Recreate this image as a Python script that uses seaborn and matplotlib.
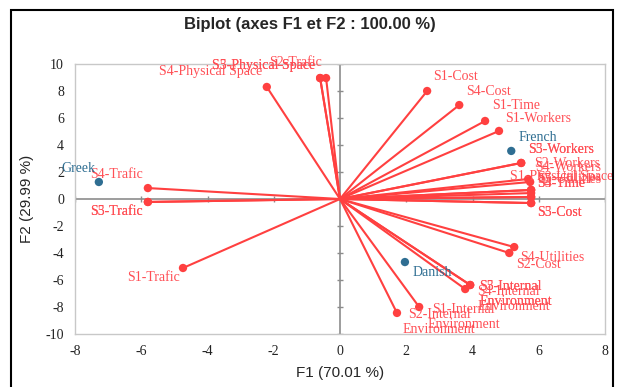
import pandas as pd
import seaborn as sns
import matplotlib.pyplot as plt
from matplotlib.patches import Rectangle

# Variables (loadings on F1 / F2)
var_names = ["S1-Cost", "S4-Cost", "S1-Time", "S1-Workers", "S5-Workers", "S3-Workers",
             "S2-Workers", "S4-Workers", "S1-Physical Space", "S3-Utilities", "S5-Utilities",
             "S4-Time", "S3-Time", "S5-Cost", "S3-Cost", "S4-Utilities", "S2-Cost",
             "S5-Internal\nEnvironment", "S3-Internal\nEnvironment", "S4-Internal\nEnvironment",
             "S1-Internal\nEnvironment", "S2-Internal\nEnvironment",
             "S4-Trafic", "S5-Trafic", "S3-Trafic", "S1-Trafic",
             "S4-Physical Space", "S5-Physical Space", "S3-Physical Space", "S2-Trafic"]
var_f1 = [2.63, 3.60, 4.38, 4.80, 5.47, 5.47, 5.68, 5.74, 5.77, 5.77, 5.77, 5.77, 5.77, 5.77, 5.77,
          5.26, 5.11, 3.93, 3.93, 3.78, 2.39, 1.72, -5.80, -5.80, -5.80, -4.74,
          -2.21, -0.60, -0.60, -0.42]
var_f2 = [8.00, 6.96, 5.78, 5.04, 2.67, 2.67, 1.48, 1.26, 0.67, 0.67, 0.44, 0.15, 0.15, -0.30, -0.30,
          -3.56, -4.00, -6.37, -6.37, -6.67, -8.00, -8.44, 0.81, -0.22, -0.22, -5.11,
          8.30, 8.96, 8.96, 8.96]

# Observations
obs_names = ["Greek", "French", "Danish"]
obs_f1 = [-7.28, 5.17, 1.96]
obs_f2 = [1.26, 3.56, -4.67]

ticks_x = [-8, -6, -4, -2, 0, 2, 4, 6, 8]
ticks_y = [-10, -8, -6, -4, -2, 0, 2, 4, 6, 8, 10]

# label placement (pixel offset from point, alignment)
label_pos = {
    "S1-Cost": (6, 14, "left"), "S4-Cost": (7, 14, "left"), "S1-Time": (7, 15, "left"),
    "S1-Workers": (6, 12, "left"), "S5-Workers": (7, 13, "left"), "S3-Workers": (7, 13, "left"),
    "S2-Workers": (6, 16, "left"), "S4-Workers": (5, 14, "left"),
    "S1-Physical Space": (-21, 13, "left"), "S3-Utilities": (6, 12, "left"),
    "S5-Utilities": (6, 14, "left"), "S4-Time": (6, 13, "left"), "S3-Time": (6, 13, "left"),
    "S5-Cost": (6, -9, "left"), "S3-Cost": (6, -9, "left"),
    "S4-Utilities": (6, -10, "left"), "S2-Cost": (7, -11, "left"),
    "S5-Internal\nEnvironment": (9, -9, "left"), "S3-Internal\nEnvironment": (9, -9, "left"),
    "S4-Internal\nEnvironment": (12, -10, "left"),
    "S1-Internal\nEnvironment": (8, -10, "left"), "S2-Internal\nEnvironment": (6, -9, "left"),
    "S4-Trafic": (-5, 14, "right"), "S5-Trafic": (-5, -10, "right"), "S3-Trafic": (-5, -10, "right"),
    "S1-Trafic": (-3, -10, "right"), "S4-Physical Space": (-5, 15, "right"),
    "S5-Physical Space": (-5, 13, "right"), "S3-Physical Space": (-5, 13, "right"),
    "S2-Trafic": (-4, 16, "right"),
    "Greek": (-3, 13, "right"), "French": (7, 13, "left"), "Danish": (8, -10, "left"),
}

red_line = "#FF4040"
red_text = "#FF4F55"
blue = "#2F6E92"

sns.set_style("white")
plt.rcParams["font.family"] = ["Liberation Serif", "DejaVu Serif"]

variables = pd.DataFrame({"name": var_names, "F1": var_f1, "F2": var_f2})
observations = pd.DataFrame({"name": obs_names, "F1": obs_f1, "F2": obs_f2})

fig = plt.figure(figsize=(6.2, 3.87), dpi=100)
ax = fig.add_axes([75 / 620, 1 - 334 / 387, 530 / 620, 270 / 387])

# zero axes with tick marks
ax.axhline(0, color="#8C8C8C", lw=1.2, zorder=1)
ax.axvline(0, color="#8C8C8C", lw=1.2, zorder=1)
ax.plot(ticks_x, [0] * len(ticks_x), ls="none", marker="|", ms=5, color="#8C8C8C", zorder=1)
ax.plot([0] * len(ticks_y), ticks_y, ls="none", marker="_", ms=5, color="#8C8C8C", zorder=1)

# vectors
for _, r in variables.iterrows():
    ax.plot([0, r.F1], [0, r.F2], color=red_line, lw=1.5, zorder=2)
sns.scatterplot(data=variables, x="F1", y="F2", color=red_line, s=36, edgecolor="none",
                ax=ax, zorder=3)
sns.scatterplot(data=observations, x="F1", y="F2", color=blue, s=36, edgecolor="none",
                ax=ax, zorder=3)

for _, r in variables.iterrows():
    dx, dy, ha = label_pos[r["name"]]
    ax.annotate(r["name"], (r.F1, r.F2), xytext=(dx, dy), textcoords="offset pixels",
                ha=ha, va="center", ma="center" if "Internal" in r["name"] and r.F1 < 3 else "left",
                color=red_text, fontsize=10, linespacing=1.25, annotation_clip=False)
for _, r in observations.iterrows():
    dx, dy, ha = label_pos[r["name"]]
    ax.annotate(r["name"], (r.F1, r.F2), xytext=(dx, dy), textcoords="offset pixels",
                ha=ha, va="center", color=blue, fontsize=10, annotation_clip=False)

ax.set_xlim(-8, 8)
ax.set_ylim(-10, 10)
ax.set_xticks(ticks_x)
ax.set_yticks(ticks_y)
ax.set_xticklabels([str(t) for t in ticks_x])
ax.set_yticklabels([str(t) for t in ticks_y])
ax.tick_params(length=0, labelsize=10, colors="#222222", pad=8)
for s in ax.spines.values():
    s.set_color("#C8C8C8")
    s.set_linewidth(1.0)

ax.set_xlabel("F1 (70.01 %)", family="Liberation Sans", fontsize=11, labelpad=6)
ax.set_ylabel("F2 (29.99 %)", family="Liberation Sans", fontsize=11, labelpad=8)
fig.text(0.5, 1 - 25 / 387, "Biplot (axes F1 et F2 : 100.00 %)", ha="center", va="center",
         family="Liberation Sans", fontsize=12, fontweight="bold")

fig.patches.append(Rectangle((11 / 620, -0.05), 602 / 620, 1.05 - 10 / 387, transform=fig.transFigure,
                             fill=False, edgecolor="black", lw=1.5))

fig.savefig("out.png", dpi=100)
